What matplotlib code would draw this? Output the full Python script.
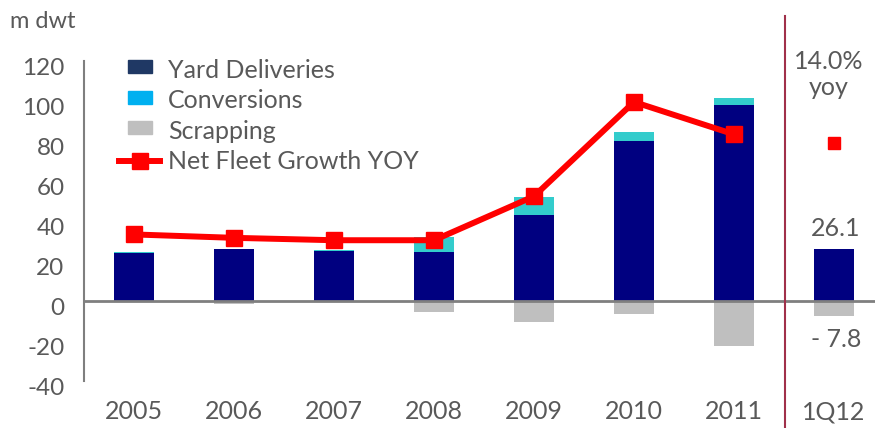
import matplotlib
matplotlib.use("Agg")
import matplotlib.pyplot as plt
import matplotlib.transforms as mtransforms
from matplotlib.patches import Patch, Rectangle
from matplotlib.lines import Line2D
from matplotlib.legend_handler import HandlerPatch
import numpy as np

plt.rcParams['font.family'] = ['Lato', 'DejaVu Sans']

categories = ["2005", "2006", "2007", "2008", "2009", "2010", "2011", "1Q12"]
yard_deliveries = [23.7, 25.8, 25.0, 24.2, 42.9, 79.9, 98.2, 26.1]
conversions = [0.5, 0.3, 0.3, 7.5, 9.1, 4.6, 3.5, 0.0]
scrapping = [-0.8, -1.8, -0.3, -5.5, -10.7, -6.5, -22.5, -7.8]
net_growth = [33.2, 31.5, 30.3, 30.3, 52.3, 99.5, 83.3]
net_growth_1q12 = 79.2
yticks = [-40, -20, 0, 20, 40, 60, 80, 100, 120]

GREY_TXT = "#595959"
fig = plt.figure(figsize=(8.75, 4.28), dpi=100)
ax = fig.add_axes([84/875, (428-380.7)/428, 1 - 84/875, (380.7-61)/428])

x = np.arange(len(categories))
w = 0.4
ax.bar(x, yard_deliveries, width=w, color="#000080", zorder=2)
ax.bar(x, conversions, width=w, bottom=yard_deliveries, color="#33CCCC", zorder=2)
ax.bar(x, scrapping, width=w, color="#BFBFBF", zorder=2)

ax.plot(x[:7], net_growth, color="#FF0000", lw=4.3, marker="s", ms=11.5, zorder=4)
ax.plot([x[7]], [net_growth_1q12], ls="none", color="#FF0000", marker="s", ms=9, zorder=4)

ax.set_xlim(-0.5, 7.41)
ax.set_ylim(-40, 120)
ax.axhline(0, color="#7F7F7F", lw=2, zorder=3)
ax.axvline(6.51, ymin=-0.15, ymax=1.14, color="#A0304A", lw=1.5, clip_on=False, zorder=5)

for s in ["top", "right", "bottom"]:
    ax.spines[s].set_visible(False)
ax.spines["left"].set_color("#7F7F7F")
ax.spines["left"].set_linewidth(1.5)

ax.set_yticks(yticks)
ax.set_yticklabels([str(v) for v in yticks])
ax.tick_params(axis="y", length=0, labelsize=17.5, labelcolor=GREY_TXT, pad=14)
offset = mtransforms.ScaledTranslation(0, -6/100, fig.dpi_scale_trans)
for lab in ax.get_yticklabels():
    lab.set_transform(lab.get_transform() + offset)

ax.set_xticks(x)
ax.set_xticklabels(categories)
ax.tick_params(axis="x", length=0, labelsize=18, labelcolor=GREY_TXT, pad=14)

# annotations for 1Q12
ax.text(6.95, 119.9, "14.0%", ha="center", va="center", fontsize=18, color=GREY_TXT)
ax.text(6.95, 106.5, "yoy", ha="center", va="center", fontsize=18, color=GREY_TXT)
ax.text(7.02, 36.4, "26.1", ha="center", va="center", fontsize=18, color=GREY_TXT)
ax.text(7.02, -19.6, "- 7.8", ha="center", va="center", fontsize=18, color=GREY_TXT)

fig.text(10/875, 1 - 21/428, "m dwt", ha="left", va="center", fontsize=17, color=GREY_TXT)


def narrow_patch(legend, orig_handle, xdescent, ydescent, width, height, fontsize):
    pw = width * 24 / 41
    ph = 13 * 72 / 100
    return Rectangle((xdescent + (width - pw) / 2, ydescent + (height - ph) / 2 + 3), pw, ph)


handles = [
    Patch(color="#1F3864"),
    Patch(color="#00B0F0"),
    Patch(color="#BFBFBF"),
    Line2D([0], [0], color="#FF0000", lw=4.3, marker="s", ms=11.5),
]
labels = ["Yard Deliveries", "Conversions", "Scrapping", "Net Fleet Growth YOY"]
leg = ax.legend(handles, labels, loc="upper left", bbox_to_anchor=(0.016, 1.077),
                frameon=False, fontsize=18, labelcolor=GREY_TXT,
                handlelength=1.64, handleheight=0.6, labelspacing=0.3, handletextpad=0.3,
                handler_map={Patch: HandlerPatch(patch_func=narrow_patch)})

fig.savefig("out.png", dpi=100)
